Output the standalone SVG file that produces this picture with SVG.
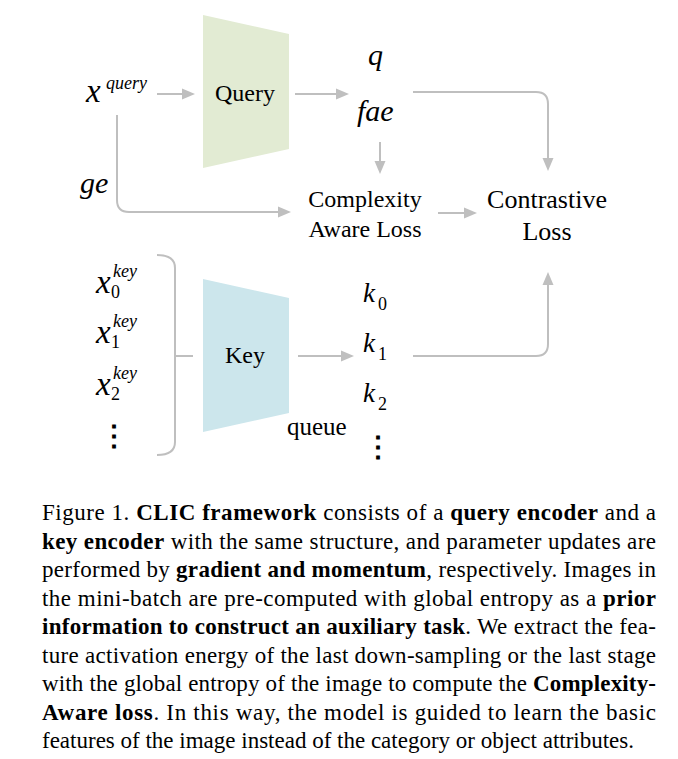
<svg xmlns="http://www.w3.org/2000/svg" width="678" height="759" viewBox="0 0 678 759">
<style>
.t{font-family:"Liberation Serif","Times New Roman",serif;fill:#000}
.i{font-family:"Liberation Serif","Times New Roman",serif;font-style:italic;fill:#000}
.c{stroke:#bfbfbf;stroke-width:2;fill:none}
.cap{font-family:"Liberation Serif","Times New Roman",serif;font-size:23px;fill:#000}
.b{font-weight:bold}
.dots{font-family:"DejaVu Serif",serif;font-weight:bold;fill:#000}
</style>
<defs>
<marker id="ah" markerUnits="userSpaceOnUse" markerWidth="13" markerHeight="12" refX="9" refY="6" orient="auto">
<path d="M0,0.5 L13,6 L0,11.5 z" fill="#bfbfbf"/>
</marker>
</defs>
<rect width="678" height="759" fill="#fff"/>

<g id="query-encoder">
<polygon points="203,15 289,34 289,149 203,168" fill="#e2ebd3"/>
<text class="t" x="245" y="101" font-size="24" text-anchor="middle">Query</text>
</g>
<g id="key-encoder">
<polygon points="203,279 289,298 289,413 203,432" fill="#cce6ec"/>
<text class="t" x="245" y="363" font-size="24" text-anchor="middle">Key</text>
</g>
<g id="x-query">
<text class="i" x="86" y="102" font-size="33">x</text>
<text class="i" x="106" y="89" font-size="18">query</text>
</g>
<g id="q"><text class="i" x="368" y="65" font-size="30">q</text></g>
<g id="fae"><text class="i" x="357" y="121" font-size="30">fae</text></g>
<g id="ge"><text class="i" x="80" y="193" font-size="30">ge</text></g>
<g id="complexity-loss">
<text class="t" x="365" y="207" font-size="24" text-anchor="middle">Complexity</text>
<text class="t" x="365" y="237" font-size="24" text-anchor="middle">Aware Loss</text>
</g>
<g id="contrastive-loss">
<text class="t" x="547" y="208" font-size="26" text-anchor="middle">Contrastive</text>
<text class="t" x="547" y="240" font-size="26" text-anchor="middle">Loss</text>
</g>
<g id="x-keys">
<text class="i" x="96" y="293" font-size="33">x</text>
<text class="i" x="113" y="277" font-size="18">key</text>
<text class="t" x="111" y="298" font-size="18">0</text>
<text class="i" x="96" y="343" font-size="33">x</text>
<text class="i" x="113" y="327" font-size="18">key</text>
<text class="t" x="111" y="348" font-size="18">1</text>
<text class="i" x="96" y="395" font-size="33">x</text>
<text class="i" x="113" y="379" font-size="18">key</text>
<text class="t" x="111" y="400" font-size="18">2</text>
<text class="dots" x="114" y="445" font-size="28" text-anchor="middle">⋮</text>
</g>
<g id="keys">
<text class="i" x="363" y="302" font-size="27">k</text>
<text class="t" x="378" y="310" font-size="18">0</text>
<text class="i" x="363" y="352" font-size="27">k</text>
<text class="t" x="378" y="360" font-size="18">1</text>
<text class="i" x="363" y="402" font-size="27">k</text>
<text class="t" x="378" y="410" font-size="18">2</text>
<text class="dots" x="378" y="456" font-size="28" text-anchor="middle">⋮</text>
<text class="t" x="287" y="435" font-size="25">queue</text>
</g>

<g id="connectors">
<path class="c" d="M157,94 H191" marker-end="url(#ah)"/>
<path class="c" d="M295,94 H345" marker-end="url(#ah)"/>
<path class="c" d="M380,142 V170" marker-end="url(#ah)"/>
<path class="c" d="M117,115 V200 Q117,212 129,212 H287" marker-end="url(#ah)"/>
<path class="c" d="M413,92 H536 Q548,92 548,104 V167" marker-end="url(#ah)"/>
<path class="c" d="M438,213 H473" marker-end="url(#ah)"/>
<path class="c" d="M413,356 H536 Q548,356 548,344 V276" marker-end="url(#ah)"/>
<path class="c" d="M298,356 H350" marker-end="url(#ah)"/>
<path class="c" d="M157,255 Q175,255 175,268 V442 Q175,455 157,455 M175,356 H193"/>
</g>

<g id="caption">
<text class="cap" x="42" y="520" textLength="614" lengthAdjust="spacing">Figure 1.  <tspan class="b">CLIC framework</tspan> consists of a <tspan class="b">query encoder</tspan> and a</text>
<text class="cap" x="42" y="548.5" textLength="614" lengthAdjust="spacing"><tspan class="b">key encoder</tspan> with the same structure, and parameter updates are</text>
<text class="cap" x="42" y="577" textLength="614" lengthAdjust="spacing">performed by <tspan class="b">gradient and momentum</tspan>, respectively.  Images in</text>
<text class="cap" x="42" y="605.5" textLength="614" lengthAdjust="spacing">the mini-batch are pre-computed with global entropy as a <tspan class="b">prior</tspan></text>
<text class="cap" x="42" y="634" textLength="614" lengthAdjust="spacing"><tspan class="b">information to construct an auxiliary task</tspan>.  We extract the fea-</text>
<text class="cap" x="42" y="662.5" textLength="614" lengthAdjust="spacing">ture activation energy of the last down-sampling or the last stage</text>
<text class="cap" x="42" y="691" textLength="614" lengthAdjust="spacing">with the global entropy of the image to compute the <tspan class="b">Complexity-</tspan></text>
<text class="cap" x="42" y="719.5" textLength="614" lengthAdjust="spacing"><tspan class="b">Aware loss</tspan>.  In this way, the model is guided to learn the basic</text>
<text class="cap" x="42" y="748">features of the image instead of the category or object attributes.</text>
</g>
</svg>
